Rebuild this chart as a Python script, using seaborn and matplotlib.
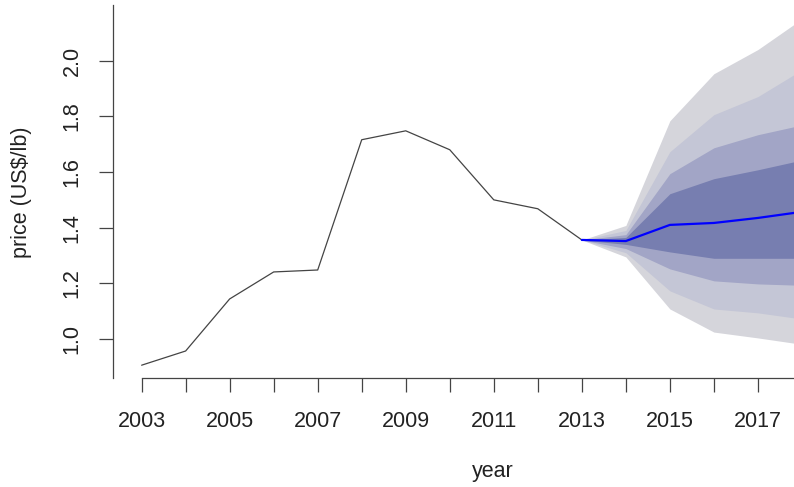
import numpy as np
import pandas as pd
import matplotlib
matplotlib.use("Agg")
import matplotlib.pyplot as plt
import seaborn as sns

sns.set_theme(style="white")
plt.rcParams['font.family'] = ['Liberation Sans', 'DejaVu Sans']

hist_years = [2003, 2004, 2005, 2006, 2007, 2008, 2009, 2010, 2011, 2012, 2013]
hist_price = [0.906, 0.957, 1.144, 1.241, 1.248, 1.716, 1.748, 1.680, 1.500, 1.468, 1.356]

fc_years = [2013, 2014, 2015, 2016, 2017, 2018]
fc_mean = [1.356, 1.352, 1.410, 1.417, 1.435, 1.457]
# band bounds, inner to outer
lo1 = [1.356, 1.340, 1.313, 1.290, 1.290, 1.290]
hi1 = [1.356, 1.365, 1.522, 1.576, 1.608, 1.643]
lo2 = [1.356, 1.325, 1.252, 1.209, 1.198, 1.193]
hi2 = [1.356, 1.375, 1.594, 1.687, 1.734, 1.769]
lo3 = [1.356, 1.310, 1.173, 1.108, 1.094, 1.072]
hi3 = [1.356, 1.390, 1.673, 1.806, 1.871, 1.967]
lo4 = [1.356, 1.295, 1.108, 1.025, 1.004, 0.981]
hi4 = [1.356, 1.408, 1.784, 1.953, 2.040, 2.150]

band_colors = ['#777eb0', '#a2a5c6', '#c4c6d6', '#d5d5db']

W, H = 794, 487
fig = plt.figure(figsize=(W / 100, H / 100), dpi=100)
ax = fig.add_axes([113 / W, (H - 378) / H, (W - 113) / W, (378 - 5) / H])

bands = [(lo4, hi4), (lo3, hi3), (lo2, hi2), (lo1, hi1)]
for (lo, hi), c in zip(bands, band_colors[::-1]):
    ax.fill_between(fc_years, lo, hi, color=c, lw=0)

hist = pd.DataFrame({'year': hist_years, 'price': hist_price})
fc = pd.DataFrame({'year': fc_years, 'price': fc_mean})
sns.lineplot(data=hist, x='year', y='price', ax=ax, color='#444444', lw=0.9)
sns.lineplot(data=fc, x='year', y='price', ax=ax, color='#0000ff', lw=1.6)

ax.set_xlim(2002.35, 2017.82)
ax.set_ylim(0.86, 2.20)

for s in ['top', 'right']:
    ax.spines[s].set_visible(False)
for s in ['left', 'bottom']:
    ax.spines[s].set_color('#444444')
    ax.spines[s].set_linewidth(0.9)
ax.spines['bottom'].set_bounds(2003, 2017.82)

xt = list(range(2003, 2018))
ax.set_xticks(xt)
ax.set_xticklabels([str(y) if y % 2 == 1 else '' for y in xt])
yt = [1.0, 1.2, 1.4, 1.6, 1.8, 2.0]
ax.set_yticks(yt)
ax.set_yticklabels([f'{v:.1f}' for v in yt], rotation=90, va='center')
ax.tick_params(axis='both', direction='out', length=10, width=0.9, color='#444444',
               labelsize=15.5, labelcolor='#222222', bottom=True, left=True)
ax.tick_params(axis='x', pad=14)
ax.tick_params(axis='y', pad=12)

ax.set_xlabel('')
ax.set_ylabel('')
fig.text(493 / W, 1 - 472 / H, 'year', ha='center', va='center', fontsize=15.5, color='#222222')
fig.text(22 / W, 1 - 192 / H, 'price (US$/lb)', ha='center', va='center', rotation=90,
         fontsize=15.5, color='#222222')

fig.savefig('out.png', dpi=100)
